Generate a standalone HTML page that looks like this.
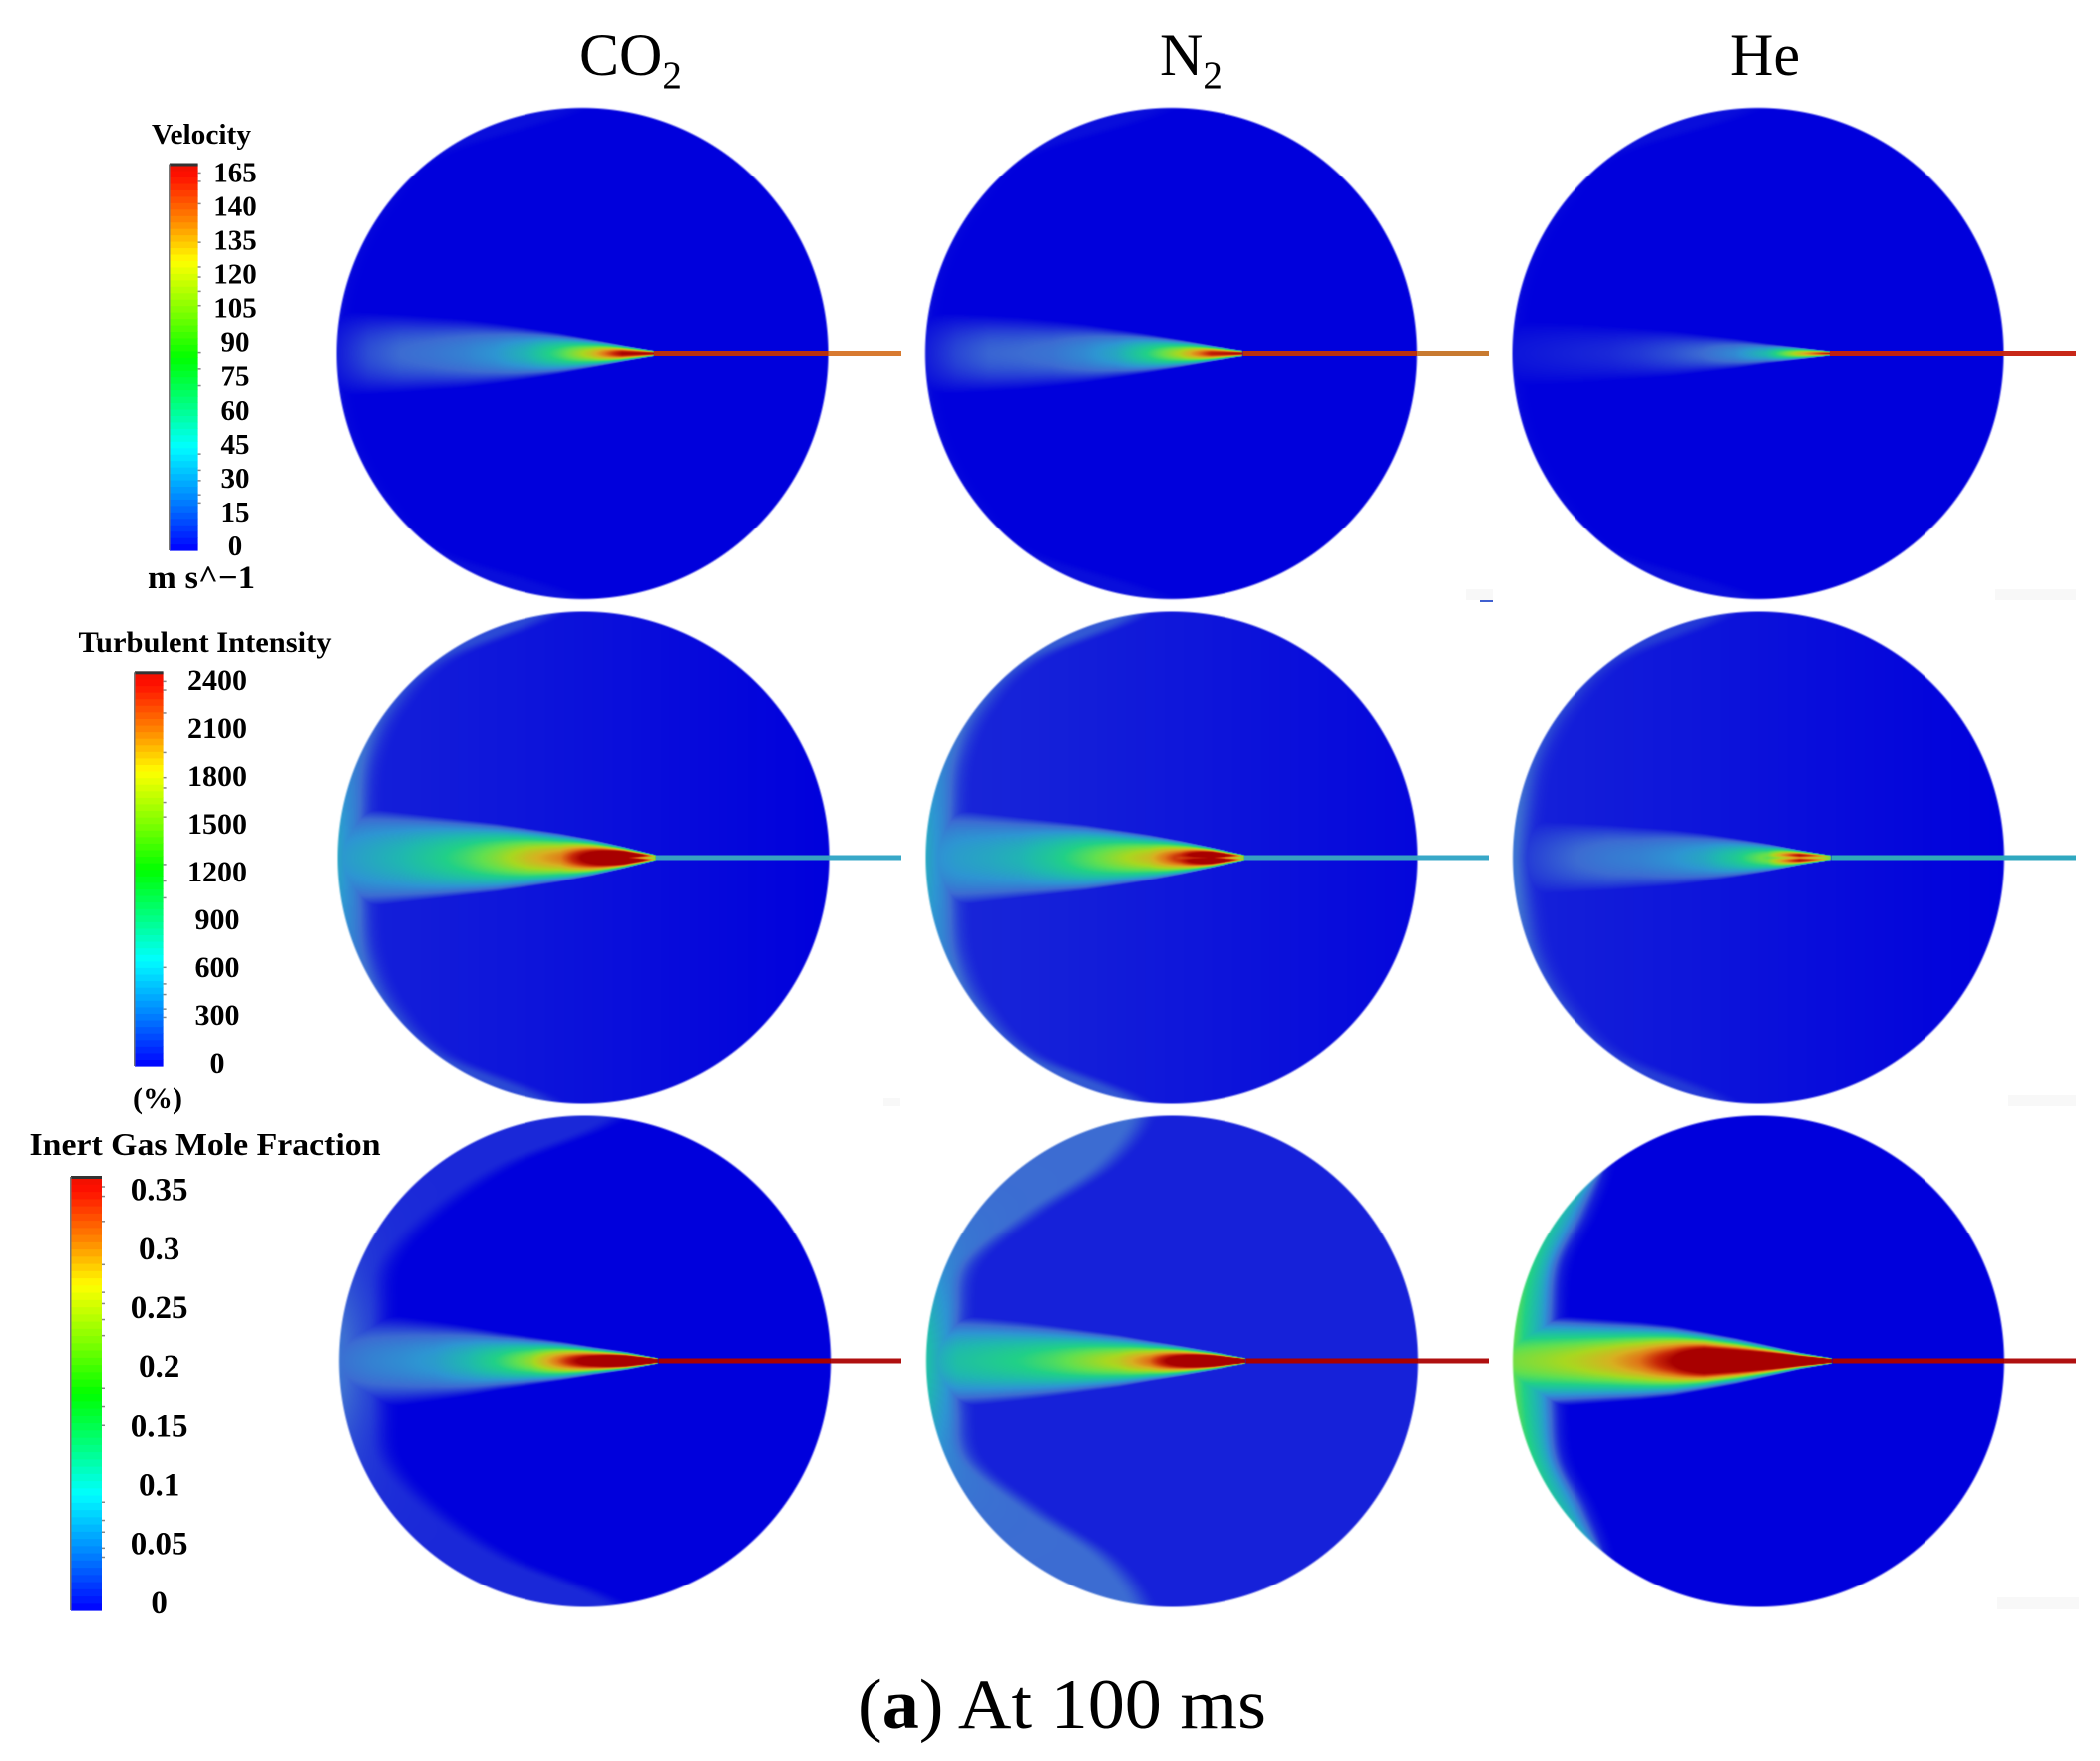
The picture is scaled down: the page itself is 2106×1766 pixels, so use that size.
<!DOCTYPE html>
<html lang="en">
<head>
<meta charset="utf-8">
<title>Inert gas jet contours at 100 ms</title>
<style>
  html, body { margin: 0; padding: 0; background: #fff; }
  #figure { position: relative; width: 2106px; height: 1766px; overflow: hidden; background: #fff; }
  canvas { position: absolute; display: block; }
  svg { position: absolute; left: 0; top: 0; }
  text { font-family: "Liberation Serif", serif; fill: #000; }
  .lbl { font-weight: bold; text-anchor: middle; }
</style>
</head>
<body>
<div id="figure">
  <canvas id="p00" width="500" height="500"></canvas>
  <canvas id="p01" width="500" height="500"></canvas>
  <canvas id="p02" width="500" height="500"></canvas>
  <canvas id="p10" width="500" height="500"></canvas>
  <canvas id="p11" width="500" height="500"></canvas>
  <canvas id="p12" width="500" height="500"></canvas>
  <canvas id="p20" width="500" height="500"></canvas>
  <canvas id="p21" width="500" height="500"></canvas>
  <canvas id="p22" width="500" height="500"></canvas>
  <svg id="overlay" width="2106" height="1766" viewBox="0 0 2106 1766">
    <g fill="#f8f8f8">
      <rect x="1470" y="591" width="27" height="11"/>
      <rect x="2001" y="591" width="81" height="11"/>
      <rect x="886" y="1101" width="17" height="8"/>
      <rect x="2014" y="1098" width="68" height="11"/>
      <rect x="2003" y="1602" width="82" height="12"/>
      <rect x="1484" y="602" width="13" height="2" fill="#4060d0"/>
    </g>
    <g id="lines"></g>
    <g id="bars"></g>
    <text x="581" y="75" font-size="60">CO<tspan font-size="39" dy="13">2</tspan></text>
    <text x="1163" y="75" font-size="60">N<tspan font-size="39" dy="13">2</tspan></text>
    <text x="1735" y="75" font-size="60">He</text>
    <text class="lbl" x="202" y="144" font-size="28" textLength="100" lengthAdjust="spacingAndGlyphs">Velocity</text>
    <text class="lbl" x="202" y="590" font-size="33" textLength="108" lengthAdjust="spacingAndGlyphs">m s^−1</text>
    <text class="lbl" x="205.500" y="654" font-size="30" textLength="254" lengthAdjust="spacingAndGlyphs">Turbulent Intensity</text>
    <text class="lbl" x="158" y="1111" font-size="30">(%)</text>
    <text class="lbl" x="205.500" y="1158" font-size="32" textLength="352" lengthAdjust="spacingAndGlyphs">Inert Gas Mole Fraction</text>
    <text x="860" y="1733" font-size="71" textLength="410" lengthAdjust="spacingAndGlyphs">(<tspan font-weight="bold">a</tspan>) At 100 ms</text>
  </svg>
</div>
<script>
// ---- Legend tick labels ----
const velocityTicks = ["165","140","135","120","105","90","75","60","45","30","15","0"];
const turbulenceTicks = ["2400","2100","1800","1500","1200","900","600","300","0"];
const moleTicks = ["0.35","0.3","0.25","0.2","0.15","0.1","0.05","0"];
const minorTickFractions = [.977,.955,.897,.797,.733,.707,.67,.633,.512,.47,.427,.25,.208,.181,.144,.123];

// ---- Centre-line field value, from nozzle tip (first) to far wall (last), 0..1+ ----
const velocityCo2Axial = [1,1,.7,.5,.34,.25,.2,.17,.15,.11,.04];
const velocityN2Axial  = [1,.95,.66,.46,.3,.22,.17,.15,.14,.1,.04];
const velocityHeAxial  = [1,.7,.36,.22,.15,.11,.08,.06,.05,.04,.03];
const turbCo2Axial = [1.2,1.4,1.1,.82,.72,.6,.5,.42,.35,.3,.25];
const turbN2Axial  = [1.2,1.35,.95,.72,.62,.52,.42,.34,.3,.27,.22];
const turbHeAxial  = [1.2,1.15,.6,.42,.3,.24,.2,.18,.15,.11,.07];
const moleCo2Axial = [1.5,1.5,1.15,.88,.62,.47,.35,.27,.23,.2,.16];
const moleN2Axial  = [1.5,1.5,1.15,.85,.68,.6,.52,.46,.42,.38,.27];
const moleHeAxial  = [1.5,1.5,1.4,1.3,1.25,1,.84,.74,.67,.62,.58];

// ---- Plume half-width (percent of chamber radius) at the same stations ----
const velocityCo2Spread = [1.2,3.5,6,8.4,10.5,12.4,14,15,16,16.8,17.4];
const velocityN2Spread  = [1.2,3.4,5.8,8,10,12,13.5,14.8,15.6,16.4,16.8];
const velocityHeSpread  = [1,2.6,4.2,6.2,7.8,9.4,10.4,11.4,12.4,13,13.5];
const turbCo2Spread = [1.2,4.5,7.5,10,12,14,15.5,17,18.5,20,21];
const turbN2Spread  = [1.2,4.2,7,9.5,11.5,13.5,15,16.5,18,19.5,20.5];
const turbHeSpread  = [1,3.2,5.8,8,10,11.5,12.5,13.5,14.2,14.8,15];
const moleCo2Spread = [1.2,3.8,5.8,8,10,12,14.4,16.4,18.2,19.6,20.5];
const moleN2Spread  = [1.2,3.8,6.2,8.4,10.8,12.6,14.5,16.2,17.6,18.8,19.6];
const moleHeSpread  = [1.2,3.5,6.5,9.5,12,14.5,16,17,18,19,20];

// ---- Cross-stream profile exponent per row ----
const profileExponents = [1.1,.95,1.2];

// ---- Wall-layer boundary (fraction of radius from centre) vs. height 0,.2,.4,.6,.8,1 ----
const velocityWall = [-.97,-.96,-.9,-.78,-.58,0];
const turbCo2Wall  = [-.86,-.86,-.84,-.75,-.55,-.1];
const turbHeWall   = [-.92,-.9,-.86,-.75,-.55,-.1];
const moleCo2Wall  = [-.8,-.8,-.78,-.6,-.3,.16];
const moleN2Wall   = [-.84,-.84,-.8,-.55,-.25,-.1];
const moleHeWall   = [-.81,-.81,-.79,-.69,-.62,-.62];

// ---- Field levels: background left/right, wall rim, wall edge, rim decay height ----
const velocityLevels = [[0,0,.05,.02,.5],[0,0,.05,.02,.5],[0,0,.05,.02,.5]];
const turbLevels = [[.05,0,.24,.07,.4],[.06,.01,.24,.08,.4],[.05,0,.12,.05,.5]];
const moleLevels = [[0,0,.17,.06,.35],[.05,.05,.33,.1,.35],[0,0,.55,.12,.8]];

// ---- Colour ramps ----
const contourStops = [0,.06,.15,.25,.35,.45,.55,.65,.75,.83,.92,1];
const contourColors = ["#0000dc","#1a28d8","#3c6cd2","#2d96d2","#1fb8b0","#20d088","#60e050","#a8d820","#d8b020","#e07818","#c82808","#a80000"];
const barStops = [0,.13,.27,.38,.5,.62,.75,.86,.97,1];
const barColors = ["#0000ff","#0080ff","#00ffff","#00ff80","#00ff00","#80ff00","#ffff00","#ff8000","#ff1000","#f01000"];

// ---- Channel colours [inside chamber, outside chamber] ----
const channelColors = [
  [["#b8300f","#d87a30"],["#b83010","#c87a30"],["#c02010","#c82818"]],
  [["#38a0c0","#38a8c8"],["#38a0c0","#38a8c8"],["#30a8b8","#30a8c0"]],
  [["#a80000","#b01010"],["#a80000","#b01010"],["#a80000","#b01010"]]
];

const R = 246.5;
const centersX = [[584,1174.5,1763],[585,1175,1763.5],[586.5,1175.5,1763.5]];
const centersY = [354.5,860,1365];
const channelEnds = [904,1493,2082];
const tipOffsets = [72,73,74];
const axialTable = [[velocityCo2Axial,velocityN2Axial,velocityHeAxial],[turbCo2Axial,turbN2Axial,turbHeAxial],[moleCo2Axial,moleN2Axial,moleHeAxial]];
const spreadTable = [[velocityCo2Spread,velocityN2Spread,velocityHeSpread],[turbCo2Spread,turbN2Spread,turbHeSpread],[moleCo2Spread,moleN2Spread,moleHeSpread]];
const wallTable = [[velocityWall,velocityWall,velocityWall],[turbCo2Wall,turbCo2Wall,turbHeWall],[moleCo2Wall,moleN2Wall,moleHeWall]];
const levelTable = [velocityLevels,turbLevels,moleLevels];

function hex(c){ return [parseInt(c.substr(1,2),16),parseInt(c.substr(3,2),16),parseInt(c.substr(5,2),16)]; }
function ramp(stops,colors,t){
  t = Math.max(0,Math.min(1,t));
  for(let i=1;i<stops.length;i++){
    if(t<=stops[i]){
      const f=(t-stops[i-1])/(stops[i]-stops[i-1]);
      const a=hex(colors[i-1]), b=hex(colors[i]);
      return [a[0]+(b[0]-a[0])*f,a[1]+(b[1]-a[1])*f,a[2]+(b[2]-a[2])*f];
    }
  }
  return hex(colors[colors.length-1]);
}
function sample(arr,t){
  const p=Math.max(0,Math.min(1,t))*(arr.length-1);
  const i=Math.min(arr.length-2,Math.floor(p));
  return arr[i]+(arr[i+1]-arr[i])*(p-i);
}
function sampleCurve(arr,t){
  const p=Math.max(0,Math.min(1,t))*(arr.length-1);
  const i=Math.min(arr.length-2,Math.floor(p));
  const f=p-i;
  const a=arr[Math.max(0,i-1)], b=arr[i], c=arr[i+1], d=arr[Math.min(arr.length-1,i+2)];
  return .5*((2*b)+(c-a)*f+(2*a-5*b+4*c-d)*f*f+(3*b-a-3*c+d)*f*f*f);
}
function smooth(a,b,x){ const t=Math.max(0,Math.min(1,(x-a)/(b-a))); return t*t*(3-2*t); }

const lut=[];
for(let i=0;i<=1023;i++){ lut.push(ramp(contourStops,contourColors,i/1023)); }

function drawPanel(r,c){
  const cv=document.getElementById('p'+r+c);
  const cx=centersX[r][c], cy=centersY[r];
  const x0=Math.round(cx-250), y0=Math.round(cy-250);
  cv.style.left=x0+'px'; cv.style.top=y0+'px';
  const ctx=cv.getContext('2d');
  const img=ctx.createImageData(500,500);
  const axial=axialTable[r][c], spread=spreadTable[r][c], wall=wallTable[r][c], lev=levelTable[r][c];
  const tip=tipOffsets[r], expo=profileExponents[r];
  for(let py=0;py<500;py++){
    for(let px=0;px<500;px++){
      const x=px+x0+.5-cx, y=py+y0+.5-cy;
      const d=Math.sqrt(x*x+y*y);
      const alpha=Math.max(0,Math.min(1,(R+1-d)/2));
      const k=(py*500+px)*4;
      if(alpha<=0){ continue; }
      const nx=x/R, nv=Math.min(1,Math.abs(y)/R);
      const bg=lev[0]+(lev[1]-lev[0])*Math.max(0,Math.min(1,(nx+1)/2));
      // wall layer
      const xw=-Math.sqrt(Math.max(0,1-nv*nv));
      const xb=sampleCurve(wall,nv);
      const s=Math.max(0,Math.min(1,(nx-xw)/Math.max(.01,xb-xw)));
      const rim=lev[3]+(lev[2]-lev[3])*Math.exp(-(nv*nv)/(lev[4]*lev[4]));
      const wallVal=(rim+(lev[3]-rim)*s)*(1-smooth(xb-.08,xb+.05,nx));
      let val=bg+wallVal;
      // plume
      if(x<tip){
        const u=(tip-x)/(tip+R);
        const w=sample(spread,u)/100*R;
        const t=Math.abs(y)/w;
        if(t<1){
          const p=Math.pow(1-t*t,expo);
          let a=sample(axial,u);
          if(r===1 && u<.22){ a-=(.65*(1-u/.22))*Math.exp(-(y*y)/4); }
          val=Math.max(val,bg+(a-bg)*p);
        }
      }
      const col=lut[Math.round(Math.max(0,Math.min(1,val))*1023)];
      img.data[k]=col[0]; img.data[k+1]=col[1]; img.data[k+2]=col[2]; img.data[k+3]=alpha*255;
    }
  }
  ctx.putImageData(img,0,0);
}

const NS='http://www.w3.org/2000/svg';
function make(parent,tag,attrs){
  const el=document.createElementNS(NS,tag);
  for(const k in attrs){ el.setAttribute(k,attrs[k]); }
  parent.appendChild(el);
  return el;
}

function drawChannel(r,c){
  const g=document.getElementById('lines');
  const cx=centersX[r][c], cy=centersY[r];
  const tipX=cx+tipOffsets[r], wallX=cx+R, end=channelEnds[c];
  const inner=make(g,'rect',{x:tipX,y:cy-2.5,width:wallX-tipX,height:5,fill:channelColors[r][c][0]});
  
  
  const outer=make(g,'rect',{x:wallX,y:cy-2.5,width:end-wallX,height:5,fill:channelColors[r][c][1]});
  
  
}

function drawBar(name,ticks,x,yTop,w,h,labelX,firstY,lastY,fontSize){
  const g=document.getElementById('bars');
  const band=60;
  const bh=h/band;
  for(let i=0;i<band;i++){
    const c=ramp(barStops,barColors,(i+.5)/band);
    const rect=make(g,'rect',{x:x,y:yTop+h-(i+1)*bh,width:w,height:bh+.6,fill:'rgb('+c.map(Math.round).join(',')+')'});
    
    
  }
  const cap=make(g,'rect',{x:x,y:yTop-1,width:w,height:3,fill:'#333'});
  
  
  const edge=make(g,'rect',{x:x-1,y:yTop,width:1.500,height:h,fill:'#777'});
  
  
  minorTickFractions.forEach(function(f){
    const tick=make(g,'rect',{x:x+w,y:yTop+h*(1-f)-.75,width:3,height:1.500,fill:'#888'});
    
    
  });
  const step=(lastY-firstY)/(ticks.length-1);
  ticks.forEach(function(label,i){
    const t=make(g,'text',{x:labelX,y:firstY+step*i+fontSize*.33-1,'font-size':fontSize,'class':'lbl'});
    
    
    t.textContent=label;
  });
}

for(let r=0;r<3;r++){
  for(let c=0;c<3;c++){
    drawPanel(r,c);
    drawChannel(r,c);
  }
}
drawBar('velocity',velocityTicks,170,164.5,28.6,387.5,236,174,548.3,29);
drawBar('turbulence',turbulenceTicks,135,674.3,28.6,394.7,218,683,1067,30);
drawBar('mole-fraction',moleTicks,71,1180,31,435,159.6,1193.7,1608,33);
</script>
</body>
</html>
